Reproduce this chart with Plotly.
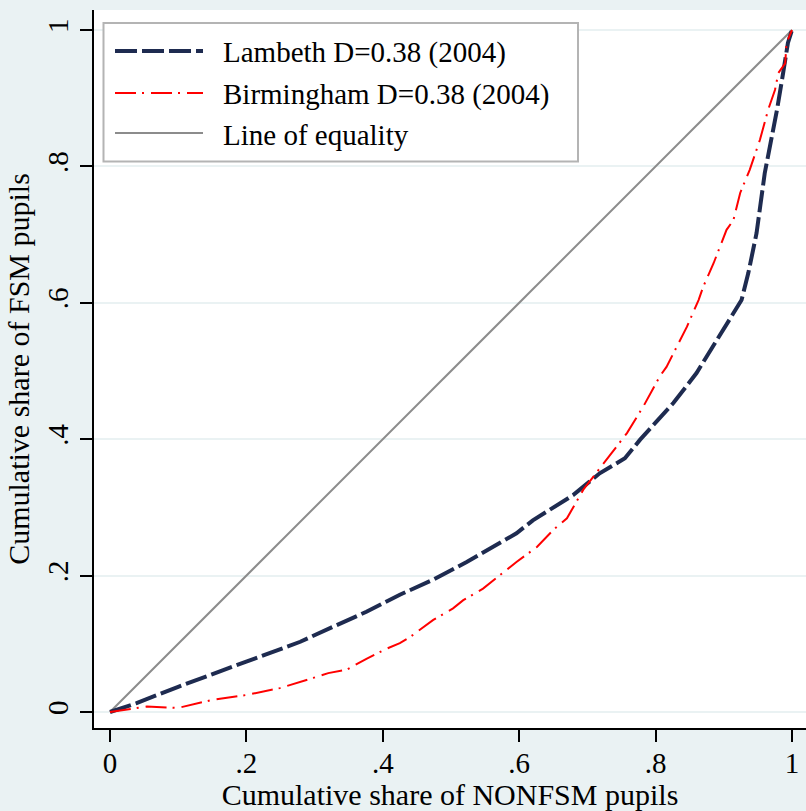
import plotly.graph_objects as go

# ---- data ----
lambeth_x = [0, 0.039, 0.1, 0.2, 0.279, 0.327, 0.376, 0.425, 0.474, 0.523, 0.572, 0.596, 0.62, 0.66,
             0.679, 0.718, 0.755, 0.777, 0.826, 0.86, 0.875, 0.904, 0.926, 0.936, 0.948, 0.96,
             0.97, 0.978, 0.987, 0.994, 1.0]
lambeth_y = [0, 0.013, 0.037, 0.073, 0.103, 0.125, 0.147, 0.172, 0.194, 0.22, 0.248, 0.262, 0.281, 0.306,
             0.318, 0.35, 0.372, 0.399, 0.453, 0.497, 0.521, 0.57, 0.604, 0.644, 0.702, 0.79,
             0.839, 0.883, 0.937, 0.981, 1.0]

birm_x = [0, 0.054, 0.1, 0.151, 0.2, 0.249, 0.298, 0.32, 0.347, 0.376, 0.406, 0.425, 0.44, 0.474,
          0.503, 0.518, 0.547, 0.572, 0.596, 0.626, 0.65, 0.67, 0.694, 0.728, 0.758, 0.782, 0.806,
          0.816, 0.826, 0.846, 0.863, 0.870, 0.885, 0.904, 0.914, 0.924, 0.938, 0.953, 0.965,
          0.975, 0.98, 0.99, 0.992, 1.0]
birm_y = [0, 0.008, 0.006, 0.018, 0.025, 0.035, 0.05, 0.057, 0.062, 0.078, 0.093, 0.101, 0.11, 0.135,
          0.152, 0.164, 0.181, 0.201, 0.22, 0.242, 0.267, 0.284, 0.326, 0.37, 0.409, 0.448, 0.492,
          0.506, 0.526, 0.565, 0.604, 0.624, 0.658, 0.707, 0.721, 0.761, 0.795, 0.839, 0.883,
          0.912, 0.937, 0.951, 0.981, 1.0]

equality_x = [0, 1]
equality_y = [0, 1]

tick_vals = [0, 0.2, 0.4, 0.6, 0.8, 1]
tick_text = ["0", ".2", ".4", ".6", ".8", "1"]

series_names = ["Lambeth D=0.38 (2004)", "Birmingham D=0.38 (2004)", "Line of equality"]
x_title = "Cumulative share of NONFSM pupils"
y_title = "Cumulative share of FSM pupils"

# ---- style ----
NAVY = "#1e2b50"
RED = "#ff0000"
GRAY = "#8c8c8c"
BG = "#eaf2f3"
FONT = "Liberation Serif"
W, H = 806, 811
ML, MR, MT, MB = 94, 0, 10, 83
styles = [
    dict(color=NAVY, width=4, dash="22px,5px"),
    dict(color=RED, width=2, dash="21px,6px,2px,7px"),
    dict(color=GRAY, width=2, dash="solid"),
]

fig = go.Figure()
order = [2, 0, 1]  # equality line underneath
all_x = [lambeth_x, birm_x, equality_x]
all_y = [lambeth_y, birm_y, equality_y]
for i in order:
    fig.add_trace(go.Scatter(x=all_x[i], y=all_y[i], mode="lines", name=series_names[i],
                             line=styles[i], showlegend=False))

pw, ph = W - ML - MR, H - MT - MB


def px_x(p):
    return (p - ML) / pw


def px_y(p):
    return (H - MB - p) / ph


# custom legend box
shapes = [dict(type="rect", xref="paper", yref="paper",
               x0=px_x(103.5), x1=px_x(578), y0=px_y(161.5), y1=px_y(23),
               line=dict(color="#b4b4b4", width=2), fillcolor="white", layer="above")]
annotations = []
row_y = [51, 93, 133]
for ry, name, st in zip(row_y, series_names, styles):
    shapes.append(dict(type="line", xref="paper", yref="paper",
                       x0=px_x(115), x1=px_x(203), y0=px_y(ry), y1=px_y(ry),
                       line=st, layer="above"))
    annotations.append(dict(text=name, xref="paper", yref="paper", x=px_x(221), y=px_y(ry + 2),
                            xanchor="left", yanchor="middle", showarrow=False,
                            font=dict(family=FONT, size=29, color="black")))

axis_common = dict(
    tickvals=tick_vals, ticktext=tick_text, ticks="outside", ticklen=12, tickwidth=2,
    tickcolor="black", showline=True, linecolor="black", linewidth=2,
    zeroline=False, tickfont=dict(family=FONT, size=29, color="black"),
)

fig.update_layout(
    width=W, height=H, margin=dict(l=ML, r=MR, t=MT, b=MB),
    paper_bgcolor=BG, plot_bgcolor="white",
    shapes=shapes, annotations=annotations,
    xaxis=dict(range=[-16 / 682.5, 1 + 14 / 682.5], showgrid=False, ticklabelstandoff=-4,
               title=dict(text=x_title, font=dict(family=FONT, size=30, color="black"), standoff=6),
               **axis_common),
    yaxis=dict(range=[-16 / 682.5, 1 + 20 / 682.5], showgrid=True, gridcolor=BG, gridwidth=2,
               tickangle=-90,
               title=dict(text=y_title, font=dict(family=FONT, size=30, color="black"), standoff=4),
               **axis_common),
)

fig.write_html("out.html")
